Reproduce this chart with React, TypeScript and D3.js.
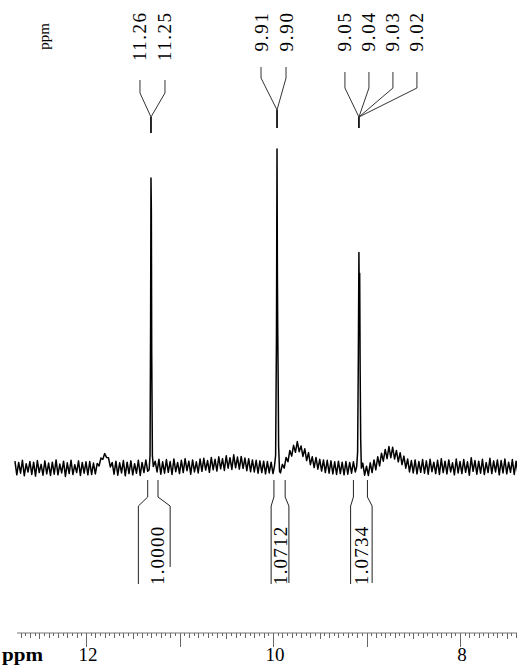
import React from "react";
import * as d3 from "d3";

// baseline + noise of the spectrum, one value every 0.02 ppm from 12.76 down to 7.38
const baseline: number[] = [
  1.2, -3.1, 0.8, -2.6, 1.5, -3.4, 0.4, -2.2, 1.1, -3.0, 0.9, -3.5, 1.4, -2.4, 0.2, -3.2, 1.3, -2.8, 0.6, -3.3,
  0.9, -2.9, 1.6, -3.1, 0.3, -2.5, 1.2, -3.6, 0.7, -2.7, 1.5, -3.0, 0.1, -2.4, 1.3, -3.3, 0.8, -2.6, 1.0, -3.1,
  1.1, -3.0, 0.6, -2.8, 0.5, -0.3, 2.2, 1.8, 3.6, 2.4, 2.3, -0.6, 0.8, -2.9, 1.2, -3.2, 0.7, -2.5, 1.4, -3.4,
  0.9, -2.7, 1.3, -3.1, 0.4, -2.6, 1.5, -3.3, 0.8, -2.4, 1.6, -2.0, 0, 0, 0, 1.2, -2.2, 1.8, -2.9, 1.0,
  -2.6, 1.7, -2.3, 1.1, -3.0, 1.9, -2.1, 0.8, -2.7, 1.5, -2.4, 2.0, -1.8, 1.2, -2.9, 1.6, -2.2, 1.0, -2.5, 1.9,
  -2.0, 2.1, -1.6, 1.4, -2.3, 2.4, -1.5, 1.8, -1.9, 2.6, -1.2, 2.0, -1.7, 2.9, -1.0, 2.3, -1.4, 3.2, -0.9, 2.5,
  -1.3, 2.7, -1.1, 2.2, -1.8, 2.0, -2.1, 1.6, -2.2, 1.5, -2.6, 1.3, -2.4, 1.2, -2.8, 1.1, -2.5, 0.9, -2.7, 0.6,
  0, 0, -2.5, 0.2, -1.0, 2.4, 1.0, 4.6, 2.8, 6.2, 4.0, 7.4, 4.2, 6.0, 2.7, 5.1, 1.4, 3.9, 0.1, 2.6,
  -0.8, 2.4, -1.3, 1.8, -1.9, 1.6, -2.4, 1.5, -2.6, 1.3, -2.8, 1.0, -3.0, 1.2, -2.7, 0.9, -3.1, 1.1, -2.9, 0.8,
  -2.6, 1.0, -2.2, 0, 0, 0, 0.6, -3.2, -0.4, -3.3, 0.7, -2.4, 1.6, -1.5, 2.6, -0.3, 3.7, 1.2, 4.9, 2.0,
  5.8, 2.3, 5.6, 1.9, 4.6, 1.0, 3.9, 0.1, 2.8, -1.0, 1.9, -2.2, 1.4, -2.5, 1.6, -2.8, 1.1, -2.3, 1.7, -2.6,
  1.3, -2.9, 1.8, -2.1, 0.9, -2.7, 1.5, -3.0, 2.0, -2.4, 1.2, -2.8, 1.6, -2.2, 0.7, -3.1, 1.9, -2.5, 1.1, -2.7,
  1.7, -2.3, 1.0, -3.2, 2.3, -2.0, 1.4, -2.9, 1.2, -2.6, 1.8, -3.0, 0.8, -2.4, 2.1, -2.7, 1.3, -2.2, 1.6, -3.1,
  1.4, -2.5, 1.9, -2.8, 0.9, -2.3, 1.7, -3.0, 1.2, -2.6,
];
const startPpm = 12.76;
const stepPpm = 0.02;

// the three sharp signals
const peak1Ppm = [11.325, 11.315, 11.309, 11.305, 11.301, 11.297, 11.29, 11.28];
const peak1Int = [-1.5, 3, 45, 90.5, 80, 35, 3, -0.5];
const peak2Ppm = [9.985, 9.972, 9.963, 9.957, 9.953, 9.949, 9.945, 9.94, 9.93];
const peak2Int = [-0.5, 3, 40, 99.7, 60, 41, 28, 6, -2];
const peak3Ppm = [9.105, 9.095, 9.087, 9.081, 9.077, 9.073, 9.068, 9.062, 9.055];
const peak3Int = [-0.5, 4, 35, 67, 50, 60.5, 30, 8, -1];

// peak picking labels
const pickLabels = [
  ["11.26", "11.25"],
  ["9.91", "9.90"],
  ["9.05", "9.04", "9.03", "9.02"],
];
const pickPpm = [11.305, 9.957, 9.081];

// integrals
const integValues = ["1.0000", "1.0712", "1.0734"];
const integFrom = [11.34, 9.99, 9.14];
const integTo = [11.23, 9.87, 8.99];
const integBoxFrom = [11.44, 10.02, 9.17];
const integBoxTo = [11.10, 9.83, 8.94];

const axisTicks = [12, 10, 8];

const W = 517;
const H = 667;
const serif = "'Liberation Serif', 'DejaVu Serif', serif";

const x = d3.scaleLinear().domain([12, 8]).range([86, 460]);
const y = d3.scaleLinear().domain([0, 100]).range([465, 148]);

const peaks = [
  [peak1Ppm, peak1Int],
  [peak2Ppm, peak2Int],
  [peak3Ppm, peak3Int],
];

function buildSpectrum(): [number, number][] {
  const pts: [number, number][] = [];
  baseline.forEach((v, i) => {
    const p = startPpm - i * stepPpm;
    const inside = peaks.some(
      ([pp]) => p <= d3.max(pp)! + 0.001 && p >= d3.min(pp)! - 0.001
    );
    if (!inside) pts.push([p, v]);
  });
  peaks.forEach(([pp, ii]) => pp.forEach((p, k) => pts.push([p, ii[k]])));
  pts.sort((a, b) => b[0] - a[0]);
  return pts;
}

// layout of the peak label groups (label x offset from peak, spacing, line y's)
const pickLayout = [
  { off: -11, dx: 25, top: 80, bend: 93, join: 117, end: 133 },
  { off: -16, dx: 25, top: 67, bend: 78, join: 110, end: 128 },
  { off: -14, dx: 24, top: 72, bend: 88, join: 117, end: 128 },
];

function RotText({ cx, y0, text, anchor, size, pitch }: any) {
  return (
    <text
      transform={`translate(${cx},${y0}) rotate(-90)`}
      textAnchor={anchor}
      dominantBaseline="central"
      fontFamily={serif}
      fontSize={size}
      textLength={pitch ? text.length * pitch : undefined}
      lengthAdjust="spacing"
      fill="#000"
      stroke="none"
    >
      {text}
    </text>
  );
}

export default function App() {
  const spectrum = buildSpectrum();
  const line = d3
    .line<[number, number]>()
    .x((d) => x(d[0]))
    .y((d) => y(d[1]));

  const axisY = 633;
  const left = x.invert(17);
  const right = x.invert(517);
  const minor = d3.range(Math.ceil(right * 20), Math.floor(left * 20) + 1);

  return (
    <svg
      width={W}
      height={H}
      style={{ position: "absolute", left: 0, top: 0, background: "#fff" }}
    >
      {/* top ppm label */}
      <RotText cx={44} y0={23} text="ppm" anchor="end" size={15} />

      {/* peak picking labels and connectors */}
      {pickLabels.map((labels, g) => {
        const L = pickLayout[g];
        const px = x(pickPpm[g]);
        return (
          <g key={g}>
            {labels.map((t, k) => {
              const lx = px + L.off + k * L.dx;
              return (
                <g key={t}>
                  <RotText cx={lx} y0={13} text={t} anchor="end" size={19} pitch={9.6} />
                  <polyline
                    points={`${lx},${L.top} ${lx},${L.bend} ${px},${L.join}`}
                    fill="none"
                    stroke="#333"
                    strokeWidth={1}
                  />
                </g>
              );
            })}
            <line x1={px} x2={px} y1={L.join} y2={L.end} stroke="#111" strokeWidth={1.8} />
          </g>
        );
      })}

      {/* spectrum */}
      <path d={line(spectrum) || ""} fill="none" stroke="#000" strokeWidth={1.5} strokeLinejoin="round" />

      {/* integrals */}
      {integValues.map((v, i) => {
        const a = x(integFrom[i]);
        const b = x(integTo[i]);
        const bl = x(integBoxFrom[i]);
        const br = x(integBoxTo[i]);
        return (
          <g key={v}>
            <polyline points={`${a},480 ${a},497 ${bl},506 ${bl},584`} fill="none" stroke="#222" strokeWidth={1} />
            <polyline points={`${b},480 ${b},497 ${br},506 ${br},${i === 0 ? 567 : 583}`} fill="none" stroke="#222" strokeWidth={1} />
            <RotText cx={(bl + br) / 2 + (i === 0 ? 3 : 0)} y0={585} text={v} anchor="start" size={19} pitch={9.7} />
          </g>
        );
      })}

      {/* axis */}
      <line x1={17} x2={W} y1={axisY} y2={axisY} stroke="#777" strokeWidth={1} />
      {minor.map((k) => {
        const len = k % 20 === 0 ? 14 : k % 10 === 0 ? 6 : k % 2 === 0 ? 5 : 3;
        const xx = Math.round(x(k / 20)) + 0.5;
        return (
          <line key={k} x1={xx} x2={xx} y1={axisY} y2={axisY + len} stroke="#666" strokeWidth={1} />
        );
      })}
      {axisTicks.map((t) => (
        <text key={t} x={x(t) + 2} y={661} textAnchor="middle" fontFamily={serif} fontSize={19} fill="#000">
          {t}
        </text>
      ))}
      <text x={2} y={661} fontFamily={serif} fontSize={18} fontWeight="bold" textLength={41} lengthAdjust="spacingAndGlyphs" fill="#000">
        ppm
      </text>
    </svg>
  );
}
